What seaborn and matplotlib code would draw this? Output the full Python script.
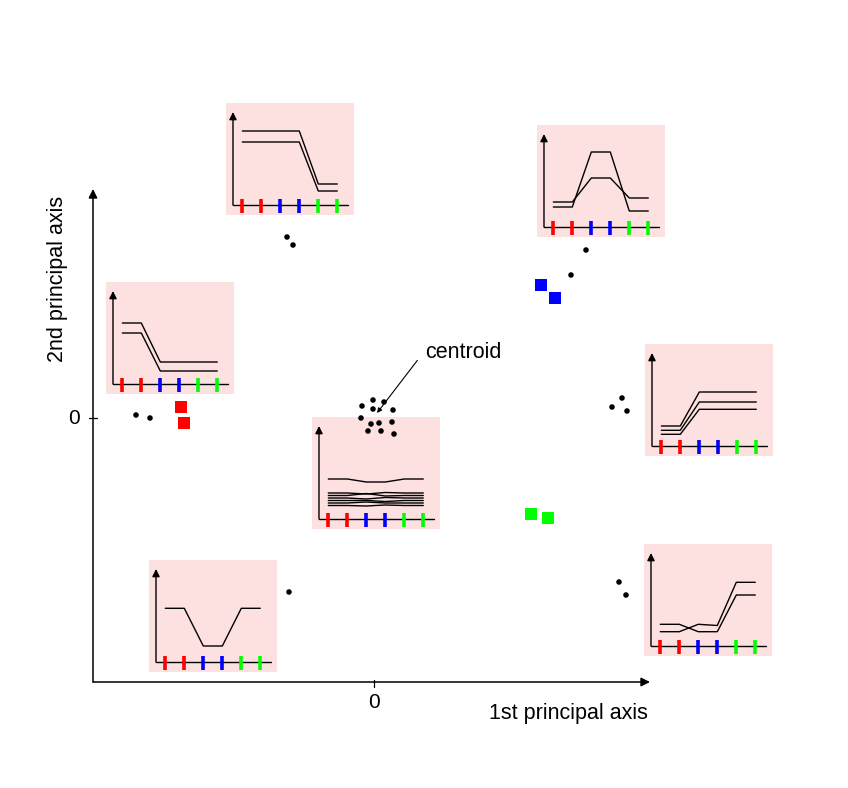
import matplotlib
matplotlib.use("Agg")
import matplotlib.pyplot as plt
import pandas as pd
import seaborn as sns

sns.set_theme(style="white")
plt.rcParams['font.family'] = ['Liberation Sans', 'DejaVu Sans']
plt.rcParams['text.color'] = 'black'

# scores of the individual profiles on the two principal axes
dot_x = [-0.87, -0.81, -2.38, -2.24, 1.97, 2.12,
         -0.12, -0.01, 0.10, -0.01, 0.19, -0.13, -0.03, 0.05, 0.18, -0.06, 0.07, 0.20,
         2.38, 2.48, 2.53, -0.85, 2.45, 2.52]
dot_y = [1.81, 1.73, 0.03, 0.00, 1.43, 1.68,
         0.12, 0.18, 0.16, 0.09, 0.08, 0.00, -0.06, -0.05, -0.04, -0.13, -0.13, -0.16,
         0.11, 0.20, 0.07, -1.74, -1.64, -1.77]

# coloured squares (the variables)
square_x = [-1.93, -1.90, 1.67, 1.81, 1.57, 1.74]
square_y = [0.11, -0.05, 1.33, 1.20, -0.96, -1.00]
square_group = ["red", "red", "blue", "blue", "green", "green"]
group_colors = {"red": "#ff0000", "blue": "#0000ff", "green": "#00ff00"}

tick_colors = ["#ff0000", "#ff0000", "#0000ff", "#0000ff", "#00ff00", "#00ff00"]

# small profile plots (values in pixels above the inset baseline)
profile_top_left = [[74, 74, 74, 74, 21, 21], [63, 63, 63, 63, 14, 14]]
profile_top_right = [[20, 20, 75, 75, 16, 16], [25, 25, 49, 49, 29, 29]]
profile_left = [[61, 61, 22, 22, 22, 22], [51, 51, 13, 13, 13, 13]]
profile_center = [[40, 40, 37, 37, 40, 40], [26, 26, 25, 26.5, 26, 26],
                  [23.5, 23.5, 25.5, 23, 23.5, 23.5], [21, 21, 20, 21.5, 21, 21],
                  [18.5, 18.5, 18.5, 17.5, 18.5, 18.5], [16, 16, 17, 16, 16, 16],
                  [13.5, 13.5, 13, 14, 13.5, 13.5]]
profile_right = [[20, 20, 54, 54, 54, 54], [15.7, 15.7, 44, 44, 44, 44],
                 [11.7, 11.7, 36.7, 36.7, 36.7, 36.7]]
profile_bottom_right = [[21.7, 21.7, 14.3, 14.3, 51, 51], [14.3, 14.3, 21.7, 20.5, 63.7, 63.7]]
profile_bottom_left = [[53.7, 53.7, 16, 16, 53.7, 53.7]]

W, H = 848, 788
BOX_W, BOX_H = 128, 112

insets = [
    ((226, 103), profile_top_left),
    ((537, 125), profile_top_right),
    ((106, 282), profile_left),
    ((312, 417), profile_center),
    ((645, 344), profile_right),
    ((644, 544), profile_bottom_right),
    ((149, 560), profile_bottom_left),
]

fig = plt.figure(figsize=(W / 100, H / 100), dpi=100)

for (left, top), profile in insets:
    iax = fig.add_axes([left / W, (H - top - BOX_H) / H, BOX_W / W, BOX_H / H])
    iax.set_facecolor("#fde1e1")
    for s in iax.spines.values():
        s.set_visible(False)
    iax.set_xticks([])
    iax.set_yticks([])
    iax.set_xlim(-0.858, 5.879)
    iax.set_ylim(-10, 102)
    rows = [{"pos": i, "val": v, "line": k}
            for k, line in enumerate(profile) for i, v in enumerate(line)]
    df = pd.DataFrame(rows)
    sns.lineplot(data=df, x="pos", y="val", units="line", estimator=None,
                 color="black", lw=1.0, ax=iax, legend=False)
    iax.set_xlabel("")
    iax.set_ylabel("")
    iax.plot([-0.49, 5.56], [0, 0], color="black", lw=1.0)
    iax.annotate("", xy=(-0.49, 93), xytext=(-0.49, 0),
                 arrowprops=dict(arrowstyle="-|>", color="black", lw=1.0,
                                 mutation_scale=11, shrinkA=0, shrinkB=0))
    iax.vlines(range(6), -8, 6, colors=tick_colors, lw=2.6)

# main axes in principal-component units (100 px per unit, origin at the centroid)
ax = fig.add_axes([0, 0, 1, 1])
ax.set_zorder(5)
ax.patch.set_visible(False)
ax.set_xlim(-3.74, 4.74)
ax.set_ylim(-3.70, 4.18)
ax.axis("off")

ax0x, ax0y = -2.81, -2.64
arrow = dict(arrowstyle="-|>", color="black", lw=1.1, mutation_scale=13, shrinkA=0, shrinkB=0)
ax.annotate("", xy=(2.76, ax0y), xytext=(ax0x, ax0y), arrowprops=arrow)
ax.annotate("", xy=(ax0x, 2.29), xytext=(ax0x, ax0y), arrowprops=arrow)
ax.plot([0, 0], [ax0y + 0.02, ax0y - 0.05], color="black", lw=0.9)
ax.plot([ax0x - 0.04, ax0x + 0.04], [0, 0], color="black", lw=0.9)
ax.text(0, ax0y - 0.21, "0", ha="center", va="center", fontsize=15)
ax.text(ax0x - 0.19, 0, "0", ha="center", va="center", fontsize=15)
ax.text(2.74, -2.95, "1st principal axis", ha="right", va="center", fontsize=15.5)
ax.text(-3.17, 1.39, "2nd principal axis", ha="center", va="center",
        rotation=90, fontsize=15.5)

sns.scatterplot(x=dot_x, y=dot_y, color="black", s=16, marker="o",
                edgecolor="none", ax=ax, legend=False)
sns.scatterplot(x=square_x, y=square_y, hue=square_group, palette=group_colors,
                s=70, marker="s", edgecolor="none", ax=ax, legend=False)

ax.annotate("centroid", xy=(0.03, 0.05), xytext=(0.51, 0.66), ha="left", va="center",
            fontsize=15.5,
            arrowprops=dict(arrowstyle="-|>", color="black", lw=0.8, mutation_scale=7,
                            shrinkA=0, shrinkB=0, relpos=(-0.1, 0.1)))

fig.savefig("out.png", dpi=100)
